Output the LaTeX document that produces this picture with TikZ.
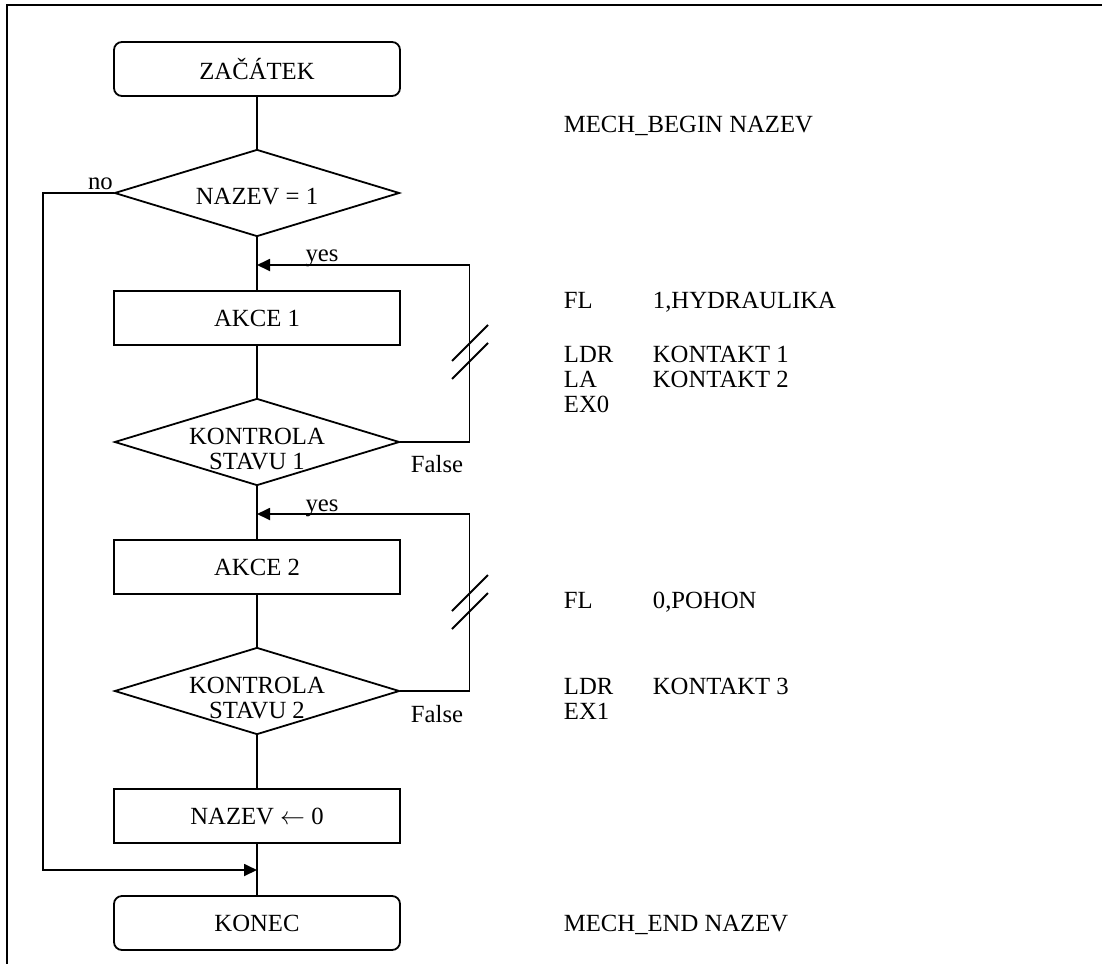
\documentclass[tikz,border=0pt]{standalone}
\usepackage{fontspec}
\setmainfont{Liberation Serif}
\usetikzlibrary{shapes.geometric,arrows.meta}

\begin{document}
\begin{tikzpicture}[
  x=1pt, y=-1pt, line width=1.8pt,
  every node/.style={font=\fontsize{24.7}{25}\selectfont},
  term/.style={draw, rounded corners=8pt, minimum width=286pt, minimum height=54pt},
  proc/.style={draw, minimum width=286pt, minimum height=54pt},
  cond/.style={draw, diamond, aspect=3.3, inner sep=0pt, minimum width=285pt, minimum height=87pt},
  condtext/.style={align=center, inner sep=0pt},
  code/.style={anchor=base west, inner sep=0pt},
  >={Triangle[length=13pt, width=12pt]}
]
\useasboundingbox (0,0) rectangle (1102,964);
\draw (1102,5) -- (7,5) -- (7,964);

\node[term] (start) at (257,69)  {ZAČÁTEK};
\node[cond] (test)  at (257,193) {};
\node[proc] (akce1) at (257,318) {AKCE 1};
\node[cond] (kontr1) at (257,442) {};
\node[proc] (akce2) at (257,567) {AKCE 2};
\node[cond] (kontr2) at (257,691) {};
\node[proc] (reset) at (257,816) {NAZEV $\leftarrow$ 0};
\node[term] (konec) at (257,923) {KONEC};

\node[condtext] (testt)   at ([yshift=-4pt]test.center)   {NAZEV = 1};
\node[condtext] (kontr1t) at ([yshift=-7pt]kontr1.center) {KONTROLA\\STAVU 1};
\node[condtext] (kontr2t) at ([yshift=-7pt]kontr2.center) {KONTROLA\\STAVU 2};

\coordinate (yes1) at (257,265);
\coordinate (yes2) at (257,514);
\coordinate (join) at (257,870);

\draw (start) -- (test);
\draw (test) -- (akce1);
\draw (akce1) -- (kontr1);
\draw (kontr1) -- (akce2);
\draw (akce2) -- (kontr2);
\draw (kontr2) -- (reset);
\draw (reset) -- (konec);

% loops back on False
\draw[->] (kontr1.east) -- ++(69,0) |- (yes1);
\draw[->] (kontr2.east) -- ++(69,0) |- (yes2);
\draw[->] (test.west) -- ++(-71,0) |- (join);

\foreach \c in {343,361,593,611}
  \draw (452,\c+18) -- (488,\c-18);

\node[anchor=base east] (no)    at (117,189) {no};
\node[anchor=base]      (yesa)  at (322,261) {yes};
\node[anchor=base]      (yesb)  at (322,511) {yes};
\node[anchor=base]      (falsea) at (437,472) {False};
\node[anchor=base]      (falseb) at (437,722) {False};

% program listing
\node[code] (mbegin) at (563,132) {MECH\_BEGIN NAZEV};
\node[code] (fl1) at (563,308)
  {\begin{tabular}[t]{@{}p{89pt}@{}l@{}}FL & 1,HYDRAULIKA\end{tabular}};
\node[code] (blk1) at (563,362)
  {\begin{tabular}[t]{@{}p{89pt}@{}l@{}}LDR & KONTAKT 1\\ LA & KONTAKT 2\\ EX0 &\end{tabular}};
\node[code] (fl2) at (563,608)
  {\begin{tabular}[t]{@{}p{89pt}@{}l@{}}FL & 0,POHON\end{tabular}};
\node[code] (blk2) at (563,694)
  {\begin{tabular}[t]{@{}p{89pt}@{}l@{}}LDR & KONTAKT 3\\ EX1 &\end{tabular}};
\node[code] (mend) at (563,931) {MECH\_END NAZEV};
\end{tikzpicture}
\end{document}
